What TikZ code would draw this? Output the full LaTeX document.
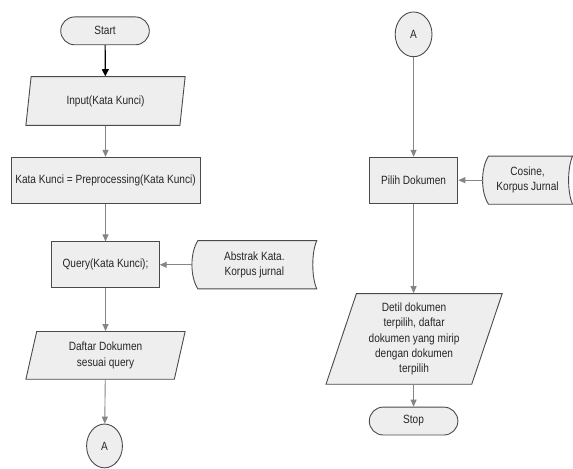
\documentclass[tikz,border=0pt]{standalone}
\usepackage{fontspec}
\setmainfont{Liberation Sans}[FakeStretch=0.845]
\usetikzlibrary{shapes.geometric,arrows.meta,calc}
\pgfdeclarelayer{paper}
\pgfdeclarelayer{shapesbg}
\pgfsetlayers{paper,shapesbg,main}
\definecolor{boxfill}{HTML}{EEEEEE}
\definecolor{boxline}{HTML}{4A4A4A}
\definecolor{arrowgray}{HTML}{858585}
\definecolor{txt}{HTML}{262626}
\begin{document}
\begin{tikzpicture}[x=1pt,y=-1pt,
  base/.style={draw=boxline, fill=boxfill, line width=0.9pt, text=txt, font=\fontsize{12}{15.5}\selectfont, align=center, inner sep=2pt},
  terminal/.style={base, rectangle, rounded corners=14pt, minimum width=89pt, minimum height=28pt},
  procbox/.style={base, rectangle, minimum height=46pt},
  iobox/.style={base, trapezium, trapezium left angle=#1, trapezium right angle=180-#1, trapezium stretches body=true},
  connector/.style={base, ellipse, minimum width=36pt, minimum height=44pt, inner sep=0pt},
  stored/.style={text=txt, font=\fontsize{12}{15.5}\selectfont, align=center, rectangle, minimum height=48pt, inner sep=0pt},
  storedline/.style={draw=boxline, fill=boxfill, line width=0.9pt},
  flow/.style={draw=arrowgray, line width=0.9pt, -{Triangle[width=6pt,length=7pt]}},
  flowdark/.style={draw=black, line width=1.2pt, -{Triangle[width=7pt,length=7pt]}}
]
\begin{pgfonlayer}{paper}
\useasboundingbox[fill=white] (0,0) rectangle (573,471);
\end{pgfonlayer}

% left column
\node[terminal] (start) at (105.5,31) {Start};
\node[iobox=70.9, minimum width=160pt, minimum height=49pt] (input) at (106,101.5) {Input(Kata Kunci)};
\node[procbox, minimum width=190pt] (prep) at (106,181) {Kata Kunci = Preprocessing(Kata Kunci)};
\node[procbox, minimum width=108pt] (query) at (106,266) {Query(Kata Kunci);};
\node[stored, minimum width=125pt] (abstrak) at (255.5,266) {Abstrak Kata.\\Korpus jurnal};
\node[iobox=70.5, minimum width=160pt, minimum height=48pt] (daftar) at (106,357) {Daftar Dokumen\\sesuai query};
\node[connector] (aout) at (105,448) {A};

% right column
\node[connector, minimum width=37pt, minimum height=45pt] (ain) at (415.5,34.5) {A};
\node[procbox, minimum width=89pt] (pilih) at (415.5,181) {Pilih Dokumen};
\node[stored, minimum width=90pt] (cosine) at (530,181) {Cosine,\\Korpus Jurnal};
\node[iobox=68.4, minimum width=177pt, minimum height=91pt] (detil) at (416,340.5) {Detil dokumen\\terpilih, daftar\\dokumen yang mirip\\dengan dokumen\\terpilih};
\node[terminal] (stop) at (415.5,423) {Stop};

% stored data outlines
\begin{pgfonlayer}{shapesbg}
\foreach \n in {abstrak,cosine}{
  \draw[storedline]
    ($(\n.north west)+(6,0)$) -- (\n.north east)
    .. controls ($(\n.north east)+(-5.3,12)$) and ($(\n.south east)+(-5.3,-12)$) .. (\n.south east)
    -- ($(\n.south west)+(6,0)$)
    .. controls ($(\n.south west)+(-2,-12)$) and ($(\n.north west)+(-2,12)$) .. ($(\n.north west)+(6,0)$) -- cycle;
}
\end{pgfonlayer}

% connectors
\draw[flowdark] (start) -- (input);
\draw[flow] (input) -- (prep);
\draw[flow] (prep) -- (query);
\draw[flow] (abstrak.west) -- (query.east);
\draw[flow] (query) -- (daftar);
\draw[flow] (daftar) -- (aout);
\draw[flow] (ain) -- (pilih);
\draw[flow] (cosine.west) -- (pilih.east);
\draw[flow] (pilih.south) -- (pilih.south |- detil.north);
\draw[flow] (detil.south -| stop.north) -- (stop.north);
\end{tikzpicture}
\end{document}
